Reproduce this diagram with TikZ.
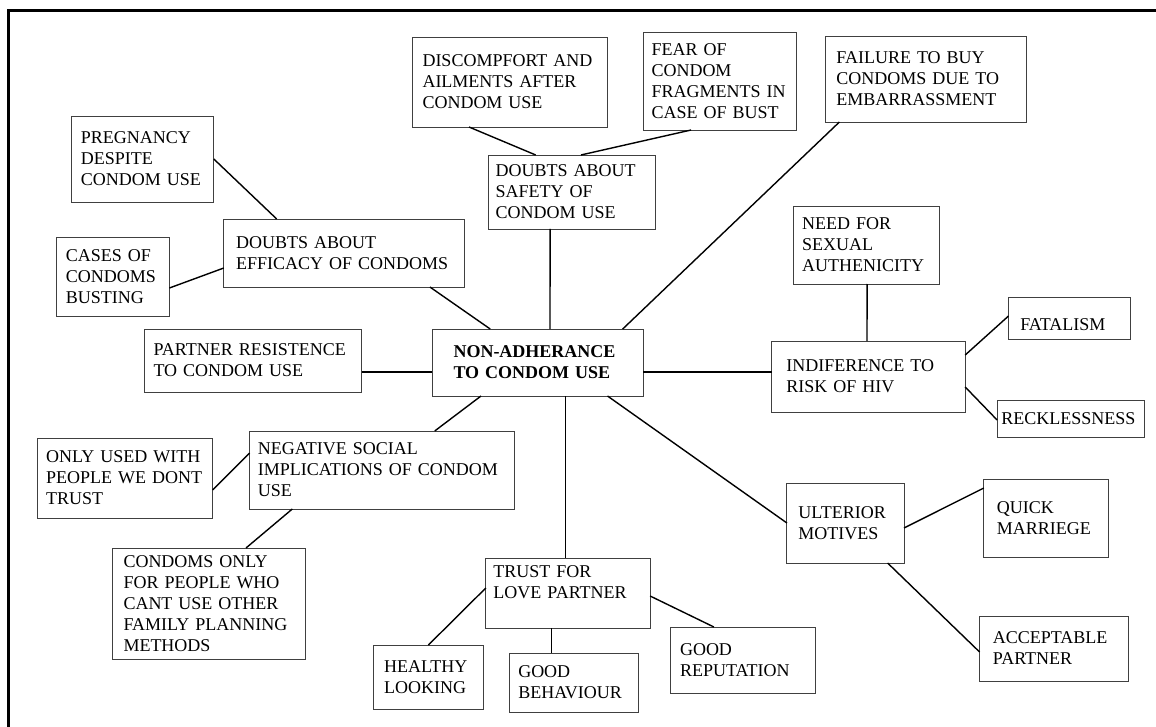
\documentclass[tikz,border=0pt]{standalone}
\usepackage{fontspec}
\setmainfont{Liberation Serif}
\begin{document}
\begin{tikzpicture}[x=1pt,y=-1pt,
  box/.style={draw=black!75, line width=0.9pt, rectangle, anchor=north west,
    inner xsep=0pt, inner ysep=0pt, outer sep=0pt, align=left,
    font=\fontsize{18}{21}\selectfont},
  link/.style={line width=1.4pt},
  rim/.style={line width=2.6pt}]
\useasboundingbox (0,0) rectangle (1156,727);
\draw[rim] (8.5,727) -- (8.5,10.5) -- (1156,10.5);

% top row
\node[box, minimum width=195pt, minimum height=90pt, text width=175pt] (disc) at (412.5,37) {DISCOMPFORT AND\\AILMENTS AFTER\\CONDOM USE};
\node[box, minimum width=152.8pt, minimum height=98pt, text width=137pt] (fear) at (643.6,32) {FEAR OF\\CONDOM\\FRAGMENTS IN\\CASE OF BUST};
\node[box, minimum width=201.7pt, minimum height=86pt, text width=179pt] (fail) at (825,36) {FAILURE TO BUY\\CONDOMS DUE TO\\EMBARRASSMENT};
\node[box, minimum width=142.8pt, minimum height=86pt, text width=123pt] (preg) at (71,116) {PREGNANCY\\DESPITE\\CONDOM USE};
\node[box, minimum width=166.7pt, minimum height=74pt, text width=152pt] (safe) at (488.3,155) {DOUBTS ABOUT\\SAFETY OF\\CONDOM USE};
\node[box, minimum width=145.5pt, minimum height=78pt, text width=129pt] (need) at (793.8,206) {NEED FOR\\SEXUAL\\AUTHENICITY};
\node[box, minimum width=240.5pt, minimum height=68pt, text width=216pt] (effic) at (223.8,219) {DOUBTS ABOUT\\EFFICACY OF CONDOMS};
\node[box, minimum width=113.2pt, minimum height=79pt, text width=94pt] (cases) at (56.2,237) {CASES OF\\CONDOMS\\BUSTING};

% middle row
\node[box, minimum width=121.5pt, minimum height=42pt, text width=98pt] (fatal) at (1008.5,297) {\raisebox{-7pt}[\height][\depth]{FATALISM}};
\node[box, minimum width=217.5pt, minimum height=63pt, text width=199pt] (part) at (144.3,329) {PARTNER RESISTENCE\\TO CONDOM USE};
\node[box, minimum width=211pt, minimum height=67pt, text width=168pt,
  font=\fontsize{18}{21}\selectfont\bfseries] (core) at (432,329) {NON-ADHERANCE\\TO CONDOM USE};
\node[box, minimum width=193.5pt, minimum height=71pt, text width=164pt] (indif) at (771.7,341) {INDIFERENCE TO\\RISK OF HIV};
\node[box, minimum width=147.5pt, minimum height=37pt, text width=139pt] (reck) at (997.1,400) {RECKLESSNESS};

% lower rows
\node[box, minimum width=264.5pt, minimum height=78pt, text width=248pt] (neg) at (249.7,431) {NEGATIVE SOCIAL\\IMPLICATIONS OF CONDOM\\USE};
\node[box, minimum width=175pt, minimum height=80pt, text width=158pt] (only) at (37.7,438) {ONLY USED WITH\\PEOPLE WE DONT\\TRUST};
\node[box, minimum width=124.3pt, minimum height=78pt, text width=98pt] (quick) at (983.8,479) {QUICK\\MARRIEGE};
\node[box, minimum width=117.1pt, minimum height=80pt, text width=94pt] (ult) at (786.9,483) {ULTERIOR\\MOTIVES};
\node[box, minimum width=192.4pt, minimum height=111pt, text width=171pt] (cond) at (112.8,548) {CONDOMS ONLY\\FOR PEOPLE WHO\\CANT USE OTHER\\FAMILY PLANNING\\METHODS};
\node[box, minimum width=164.3pt, minimum height=70pt, text width=149pt] (trust) at (485.8,558) {TRUST FOR\\LOVE PARTNER\\\mbox{}};
\node[box, minimum width=148.6pt, minimum height=65pt, text width=122pt] (acc) at (979.6,616) {ACCEPTABLE\\PARTNER};
\node[box, minimum width=145.6pt, minimum height=66pt, text width=126pt] (rep) at (670.2,627) {GOOD\\REPUTATION};
\node[box, minimum width=109.8pt, minimum height=64pt, text width=89pt] (healthy) at (373.7,645) {HEALTHY\\LOOKING};
\node[box, minimum width=128.9pt, minimum height=59pt, text width=112pt] (behav) at (509.8,653) {GOOD\\BEHAVIOUR};

% links
\draw[link] ([xshift=56.5pt]disc.south west) -- ([xshift=47.4pt]safe.north west);
\draw[link] ([xshift=47.5pt]fear.south west) -- ([xshift=92.6pt]safe.north west);
\draw[link] (preg.east) -- ([xshift=52.9pt]effic.north west);
\draw[link] ([xshift=61.8pt]safe.south west) -- ([xshift=118pt]core.north west);
\draw[link] ([xshift=14.4pt]fail.south west) -- ([xshift=190.7pt]core.north west);
\draw[link] ([yshift=-11.5pt]cases.east) -- ([yshift=-15pt]effic.west);
\draw[link] ([xshift=206.1pt]effic.south west) -- ([xshift=58.2pt]core.north west);
\draw[link] ([yshift=-11.5pt]part.east) -- ([yshift=-9.5pt]core.west);
\draw[link] ([yshift=-9.5pt]core.east) -- ([yshift=4.5pt]indif.west);
\draw[link] ([xshift=73.3pt]need.south west) -- ([xshift=95.3pt]indif.north west);
\draw[link] ([yshift=21.5pt]indif.east) -- ([yshift=2pt]fatal.west);
\draw[link] ([yshift=-10.5pt]indif.east) -- ([yshift=-1.5pt]reck.west);
\draw[link] ([xshift=49pt]core.south west) -- ([xshift=185pt]neg.north west);
\draw[link] ([yshift=-12pt]only.east) -- ([yshift=17pt]neg.west);
\draw[link] ([xshift=42.6pt]neg.south west) -- ([xshift=133.2pt]cond.north west);
\draw[link] ([xshift=133.3pt]core.south west) -- ([xshift=79.5pt]trust.north west);
\draw[link] ([xshift=175.5pt]core.south west) -- (ult.west);
\draw[link] ([yshift=-5pt]ult.east) -- ([yshift=30pt]quick.west);
\draw[link] ([xshift=100.7pt]ult.south west) -- ([yshift=-3.5pt]acc.west);
\draw[link] ([yshift=-3pt]trust.east) -- ([xshift=43.7pt]rep.north west);
\draw[link] ([xshift=65.4pt]trust.south west) -- ([xshift=41.4pt]behav.north west);
\draw[link] ([yshift=5pt]trust.west) -- ([xshift=54.7pt]healthy.north west);
\end{tikzpicture}
\end{document}
